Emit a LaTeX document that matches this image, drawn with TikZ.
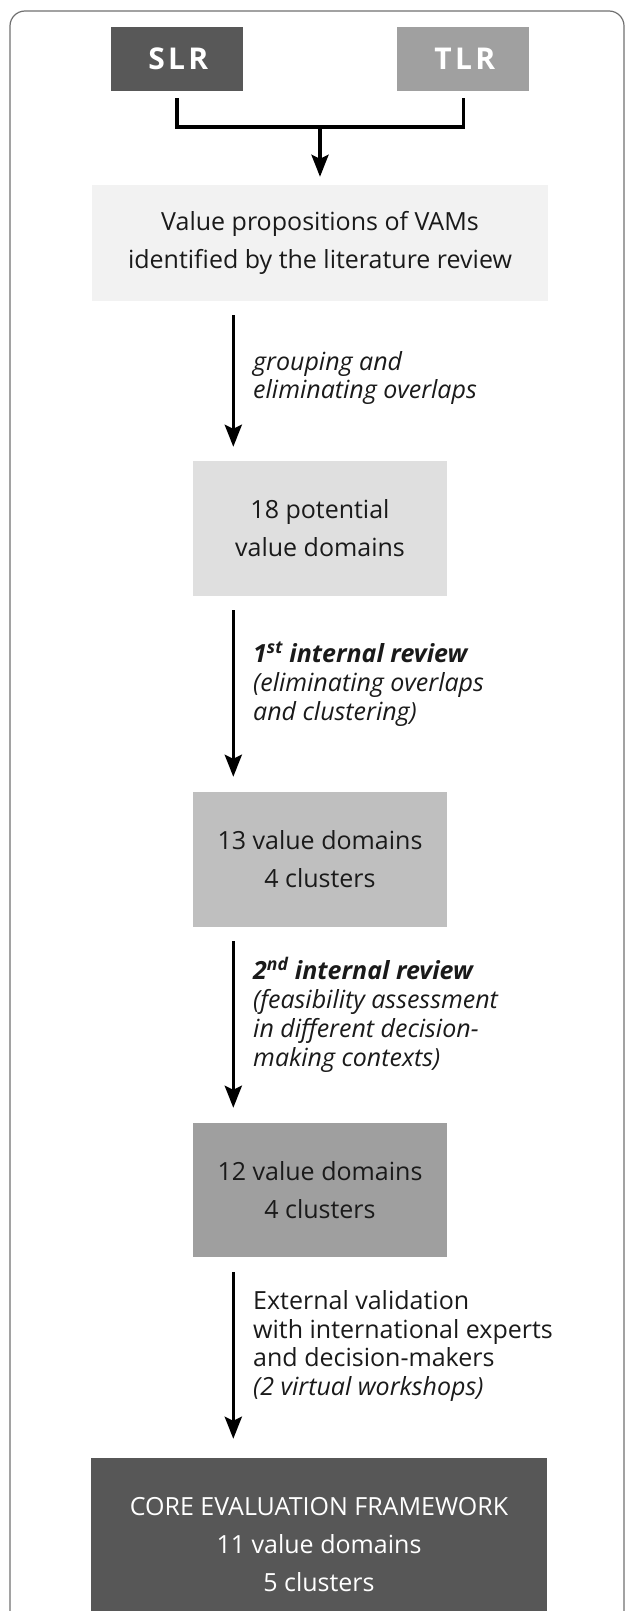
\documentclass[tikz,border=0pt]{standalone}
\usepackage{fontspec}
\setmainfont{Open Sans}
\usetikzlibrary{arrows.meta,calc}

\definecolor{framegray}{HTML}{707070}
\definecolor{textgray}{HTML}{1A1A1A}
\definecolor{slrfill}{HTML}{585858}
\definecolor{tlrfill}{HTML}{A0A0A0}
\definecolor{valfill}{HTML}{F2F2F2}
\definecolor{fill18}{HTML}{DFDFDF}
\definecolor{fill13}{HTML}{BFBFBF}
\definecolor{fill12}{HTML}{9F9F9F}
\definecolor{corefill}{HTML}{575757}

\begin{document}
\begin{tikzpicture}[x=1pt,y=-1pt,
  box/.style={rectangle, inner sep=0pt, align=center, text=textgray,
    font=\fontsize{25}{38}\selectfont},
  src/.style={rectangle, inner sep=0pt, minimum width=132pt, minimum height=64pt,
    text=white, font=\fontsize{30}{30}\selectfont\bfseries\addfontfeature{LetterSpace=11}},
  lbl/.style={anchor=west, align=left, inner sep=0pt, text=textgray,
    font=\fontsize{25}{28.8}\selectfont\itshape},
  link/.style={line width=3.6pt, draw=black},
  arr/.style={link, -{Stealth[length=22pt,width=17pt,inset=4pt]}}]

  \useasboundingbox (0,0) rectangle (629,1611);
  \clip (0,0) rectangle (629,1611);

  % outer frame (continues below the page edge)
  \draw[framegray, line width=1.2pt, rounded corners=15pt] (10,11) rectangle (624,1700);

  % sources
  \node[src, fill=slrfill] (slr) at (176.7,59) {\hspace{3pt}SLR};
  \node[src, fill=tlrfill] (tlr) at (463.3,59) {\hspace{3pt}TLR};

  % stages
  \node[box, fill=valfill, minimum width=456.6pt, minimum height=116pt] (val) at (320,243)
    {Value propositions of VAMs\\identified by the literature review};
  \node[box, fill=fill18, minimum width=254pt, minimum height=135pt] (d18) at (320,528.5)
    {18 potential\\value domains};
  \node[box, fill=fill13, minimum width=254pt, minimum height=135pt] (d13) at (320,859.5)
    {13 value domains\\4 clusters};
  \node[box, fill=fill12, minimum width=254pt, minimum height=134pt] (d12) at (320,1190)
    {12 value domains\\4 clusters};
  \node[box, fill=corefill, text=white, minimum width=456.3pt, minimum height=174pt] (core) at (319,1545)
    {CORE EVALUATION FRAMEWORK\\11 value domains\\5 clusters};

  % merging bracket
  \coordinate (join) at (320,127);
  \draw[link, line join=miter] ($(slr.south)+(0,7)$) -- (slr.south |- join) -- (tlr.south |- join) -- ($(tlr.south)+(0,7)$);
  \draw[arr] (join) -- ($(val.north)+(0,-8)$);

  % stage arrows
  \coordinate (ax) at (233.3,0);
  \draw[arr] ($(val.south -| ax)+(0,14)$) -- ($(d18.north -| ax)+(0,-14)$);
  \draw[arr] ($(d18.south -| ax)+(0,14)$) -- ($(d13.north -| ax)+(0,-15)$);
  \draw[arr] ($(d13.south -| ax)+(0,14)$) -- ($(d12.north -| ax)+(0,-15)$);
  \draw[arr] ($(d12.south -| ax)+(0,15)$) -- ($(core.north -| ax)+(0,-19)$);

  % step labels
  \node[lbl] (l1) at (253,378) {grouping and\\eliminating overlaps};
  \node[lbl] (l2) at (253,684) {\bfseries 1\textsuperscript{st} internal review\\(eliminating overlaps\\and clustering)};
  \node[lbl] (l3) at (253,1015) {\bfseries 2\textsuperscript{nd} internal review\\(feasibility assessment\\in different decision-\\making contexts)};
  \node[lbl, font=\fontsize{25}{28.8}\selectfont] (l4) at (253,1346)
    {External validation\\with international experts\\and decision-makers\\\itshape(2 virtual workshops)};
\end{tikzpicture}
\end{document}
